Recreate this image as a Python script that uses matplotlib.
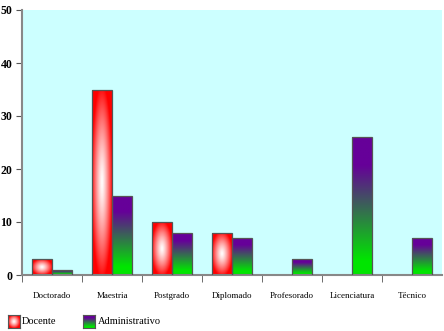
import numpy as np
import matplotlib
matplotlib.use("Agg")
import matplotlib.pyplot as plt
from matplotlib.patches import Rectangle

categories = ["Doctorado", "Maestria", "Postgrado", "Diplomado", "Profesorado", "Licenciatura", "Técnico"]
docente = [3, 35, 10, 8, 0, 0, 0]
administrativo = [1, 15, 8, 7, 3, 26, 7]
series_names = ["Docente", "Administrativo"]
yticks = [0, 10, 20, 30, 40, 50]

W, H = 444, 331
fig = plt.figure(figsize=(W / 100, H / 100), dpi=100)
ax = fig.add_axes([22 / W, (H - 275) / H, 420 / W, 265 / H])
ax.set_facecolor("#ccffff")

purple = np.array([0.40, 0.0, 0.60])
green = np.array([0.0, 0.90, 0.0])


def radial_img(n=64):
    yy, xx = np.mgrid[0:n, 0:n]
    r = np.sqrt(((xx + 0.5) / n * 2 - 1) ** 2 + ((yy + 0.5) / n * 2 - 1) ** 2)
    t = np.clip(r / 1.05, 0, 1) ** 1.3
    img = np.ones((n, n, 3))
    img[..., 1] = 1 - t
    img[..., 2] = 1 - t
    return img


def vertical_img(n=64):
    t = np.linspace(0, 1, n)[:, None]  # 0 top -> 1 bottom
    t = np.clip((t - 0.2) / 0.7, 0, 1)
    img = purple[None, None, :] * (1 - t[..., None]) + green[None, None, :] * t[..., None]
    img = np.repeat(img, 4, axis=1)
    return img


rad = radial_img()
vert = vertical_img()
bw = 1 / 3
for i, (d, a) in enumerate(zip(docente, administrativo)):
    for val, x0, img in ((d, i + 1 / 6, rad), (a, i + 0.5, vert)):
        if val <= 0:
            continue
        im = ax.imshow(img, extent=[x0, x0 + bw, 0, val], aspect="auto", origin="upper",
                       interpolation="bilinear", zorder=2)
        rect = Rectangle((x0, 0), bw, val, facecolor="none", edgecolor="#555555", linewidth=0.9, zorder=3)
        ax.add_patch(rect)
        im.set_clip_path(rect)

ax.set_xlim(0, len(categories))
ax.set_ylim(0, 50)

for s in ["top", "right"]:
    ax.spines[s].set_visible(False)
for s in ["left", "bottom"]:
    ax.spines[s].set_color("#888888")
    ax.spines[s].set_linewidth(1.5)

ax.set_yticks(yticks)
ax.set_yticklabels([str(v) for v in yticks], fontfamily="Liberation Serif", fontweight="bold", fontsize=8.5)
ax.tick_params(axis="y", length=4, color="#555555", pad=3)

ax.set_xticks(np.arange(len(categories)) + 0.5)
ax.set_xticklabels(categories, fontfamily="Liberation Serif", fontsize=6.5)
ax.tick_params(axis="x", which="major", length=0, pad=12)
ax.set_xticks(np.arange(len(categories)), minor=True)
ax.tick_params(axis="x", which="minor", length=5, color="#555555")

# legend
def legend_swatch(x, y, w, h, img):
    lax = fig.add_axes([x / W, (H - y - h) / H, w / W, h / H])
    lax.imshow(img, aspect="auto", interpolation="bilinear", extent=[0, 1, 0, 1])
    lax.set_xticks([])
    lax.set_yticks([])
    for s in lax.spines.values():
        s.set_color("#555555")
        s.set_linewidth(0.8)

legend_swatch(8, 315, 12, 13, rad)
fig.text(22 / W, 1 - 322 / H, series_names[0], fontfamily="Liberation Serif", fontsize=7.5, va="center")
legend_swatch(83, 315, 12, 13, vert)
fig.text(98 / W, 1 - 322 / H, series_names[1], fontfamily="Liberation Serif", fontsize=7.5, va="center")

fig.savefig("out.png", dpi=100)
